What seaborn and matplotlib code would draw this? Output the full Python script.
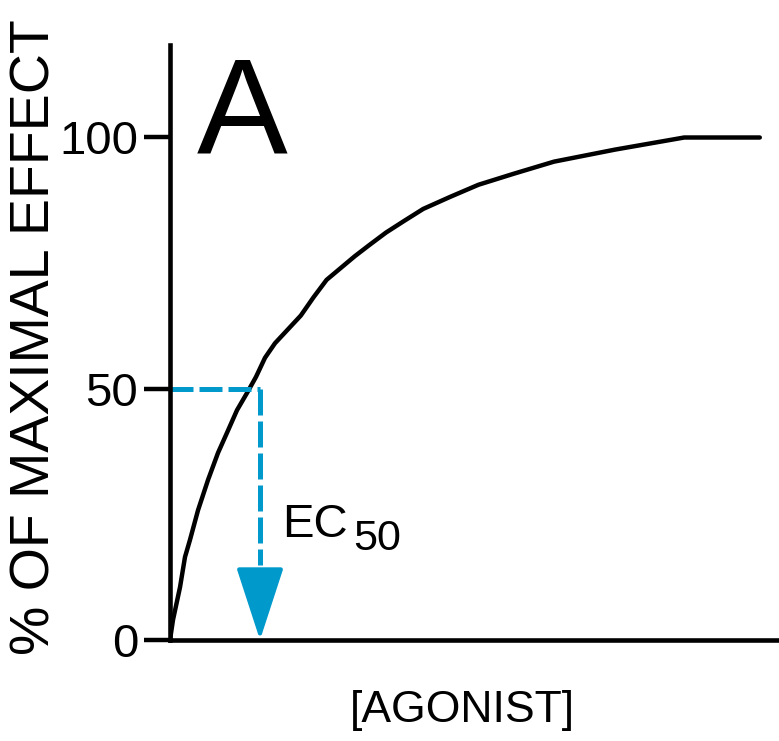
import matplotlib
matplotlib.use("Agg")
import matplotlib.pyplot as plt
import seaborn as sns
import pandas as pd

# Data (x in arbitrary agonist units, y in % of max effect)
agonist = [0, 0.5, 1.67, 2.5, 3.33, 4.67, 6.33, 8.0, 9.5, 11.17, 12.83, 14.33, 15.83, 17.5,
           21.8, 23.9, 26.1, 28.4, 30.8, 33.2, 36.0, 39.0, 42.2, 46.7, 51.4, 57.3,
           64.0, 74.2, 85.7, 98.3]
effect = [0, 4.0, 10.5, 16.5, 19.9, 25.8, 31.8, 37.2, 41.2, 45.7, 49.1, 52.3, 56.1, 59.0,
          64.5, 68.1, 71.6, 73.9, 76.3, 78.5, 81.0, 83.3, 85.7, 88.1, 90.5, 92.7,
          95.1, 97.5, 99.9, 99.9]
ec50_x = 15.0
ec50_y = 50
arrow_top = 13.0
y_ticks = [0, 50, 100]
y_tick_labels = ["0", "50", "100"]

df = pd.DataFrame({"agonist": agonist, "effect": effect})

sns.set_style("ticks")
plt.rcParams["font.family"] = ["Liberation Sans", "DejaVu Sans"]
plt.rcParams["text.color"] = "black"
plt.rcParams["axes.labelcolor"] = "black"
plt.rcParams["ytick.color"] = "black"
plt.rcParams["ytick.labelcolor"] = "black"

fig = plt.figure(figsize=(7.79, 7.41), dpi=100)
ax = fig.add_axes([170 / 779, 101 / 741, 609 / 779, 595 / 741])

sns.lineplot(data=df, x="agonist", y="effect", ax=ax, color="black", linewidth=3.2,
             estimator=None, sort=False)

blue = "#0099CC"
ax.plot([0, ec50_x], [ec50_y, ec50_y], color=blue, linewidth=3.6, dashes=(4.6, 1.2))
ax.plot([ec50_x, ec50_x], [ec50_y, arrow_top + 2], color=blue, linewidth=3.6,
        dashes=(5.2, 1.2))
ax.annotate("", xy=(ec50_x, 0), xytext=(ec50_x, arrow_top),
            arrowprops=dict(arrowstyle="-|>,head_length=2.3,head_width=0.75",
                            mutation_scale=20, color=blue, linewidth=3, shrinkA=0,
                            shrinkB=0))

ax.set_xlim(0, 609 / 6)
ax.set_ylim(0, 595 / 5.03)
ax.set_xticks([])
ax.set_yticks(y_ticks)
ax.set_yticklabels(y_tick_labels)
ax.tick_params(axis="y", length=19, width=3.2, labelsize=34, pad=4, color="black",
               labelcolor="black")

sns.despine(ax=ax)
for s in ["left", "bottom"]:
    ax.spines[s].set_linewidth(3.3)
    ax.spines[s].set_color("black")

ax.set_xlabel("[AGONIST]", fontsize=32, color="black")
ax.set_ylabel("% OF MAXIMAL EFFECT", fontsize=40, color="black")
ax.yaxis.set_label_coords((62 - 170) / 609, (640 - 337) / 595)
ax.xaxis.set_label_coords((462 - 170) / 609, -50 / 595)
ax.xaxis.label.set_va("top")

ax.text(4.5, 97.0, "A", fontsize=98, va="baseline", ha="left", color="black")
ax.text(18.7, 20.5, "EC", fontsize=34, va="baseline", ha="left", color="black")
ax.text(30.5, 17.9, "50", fontsize=31, va="baseline", ha="left", color="black")

fig.savefig("out.png", dpi=100)
